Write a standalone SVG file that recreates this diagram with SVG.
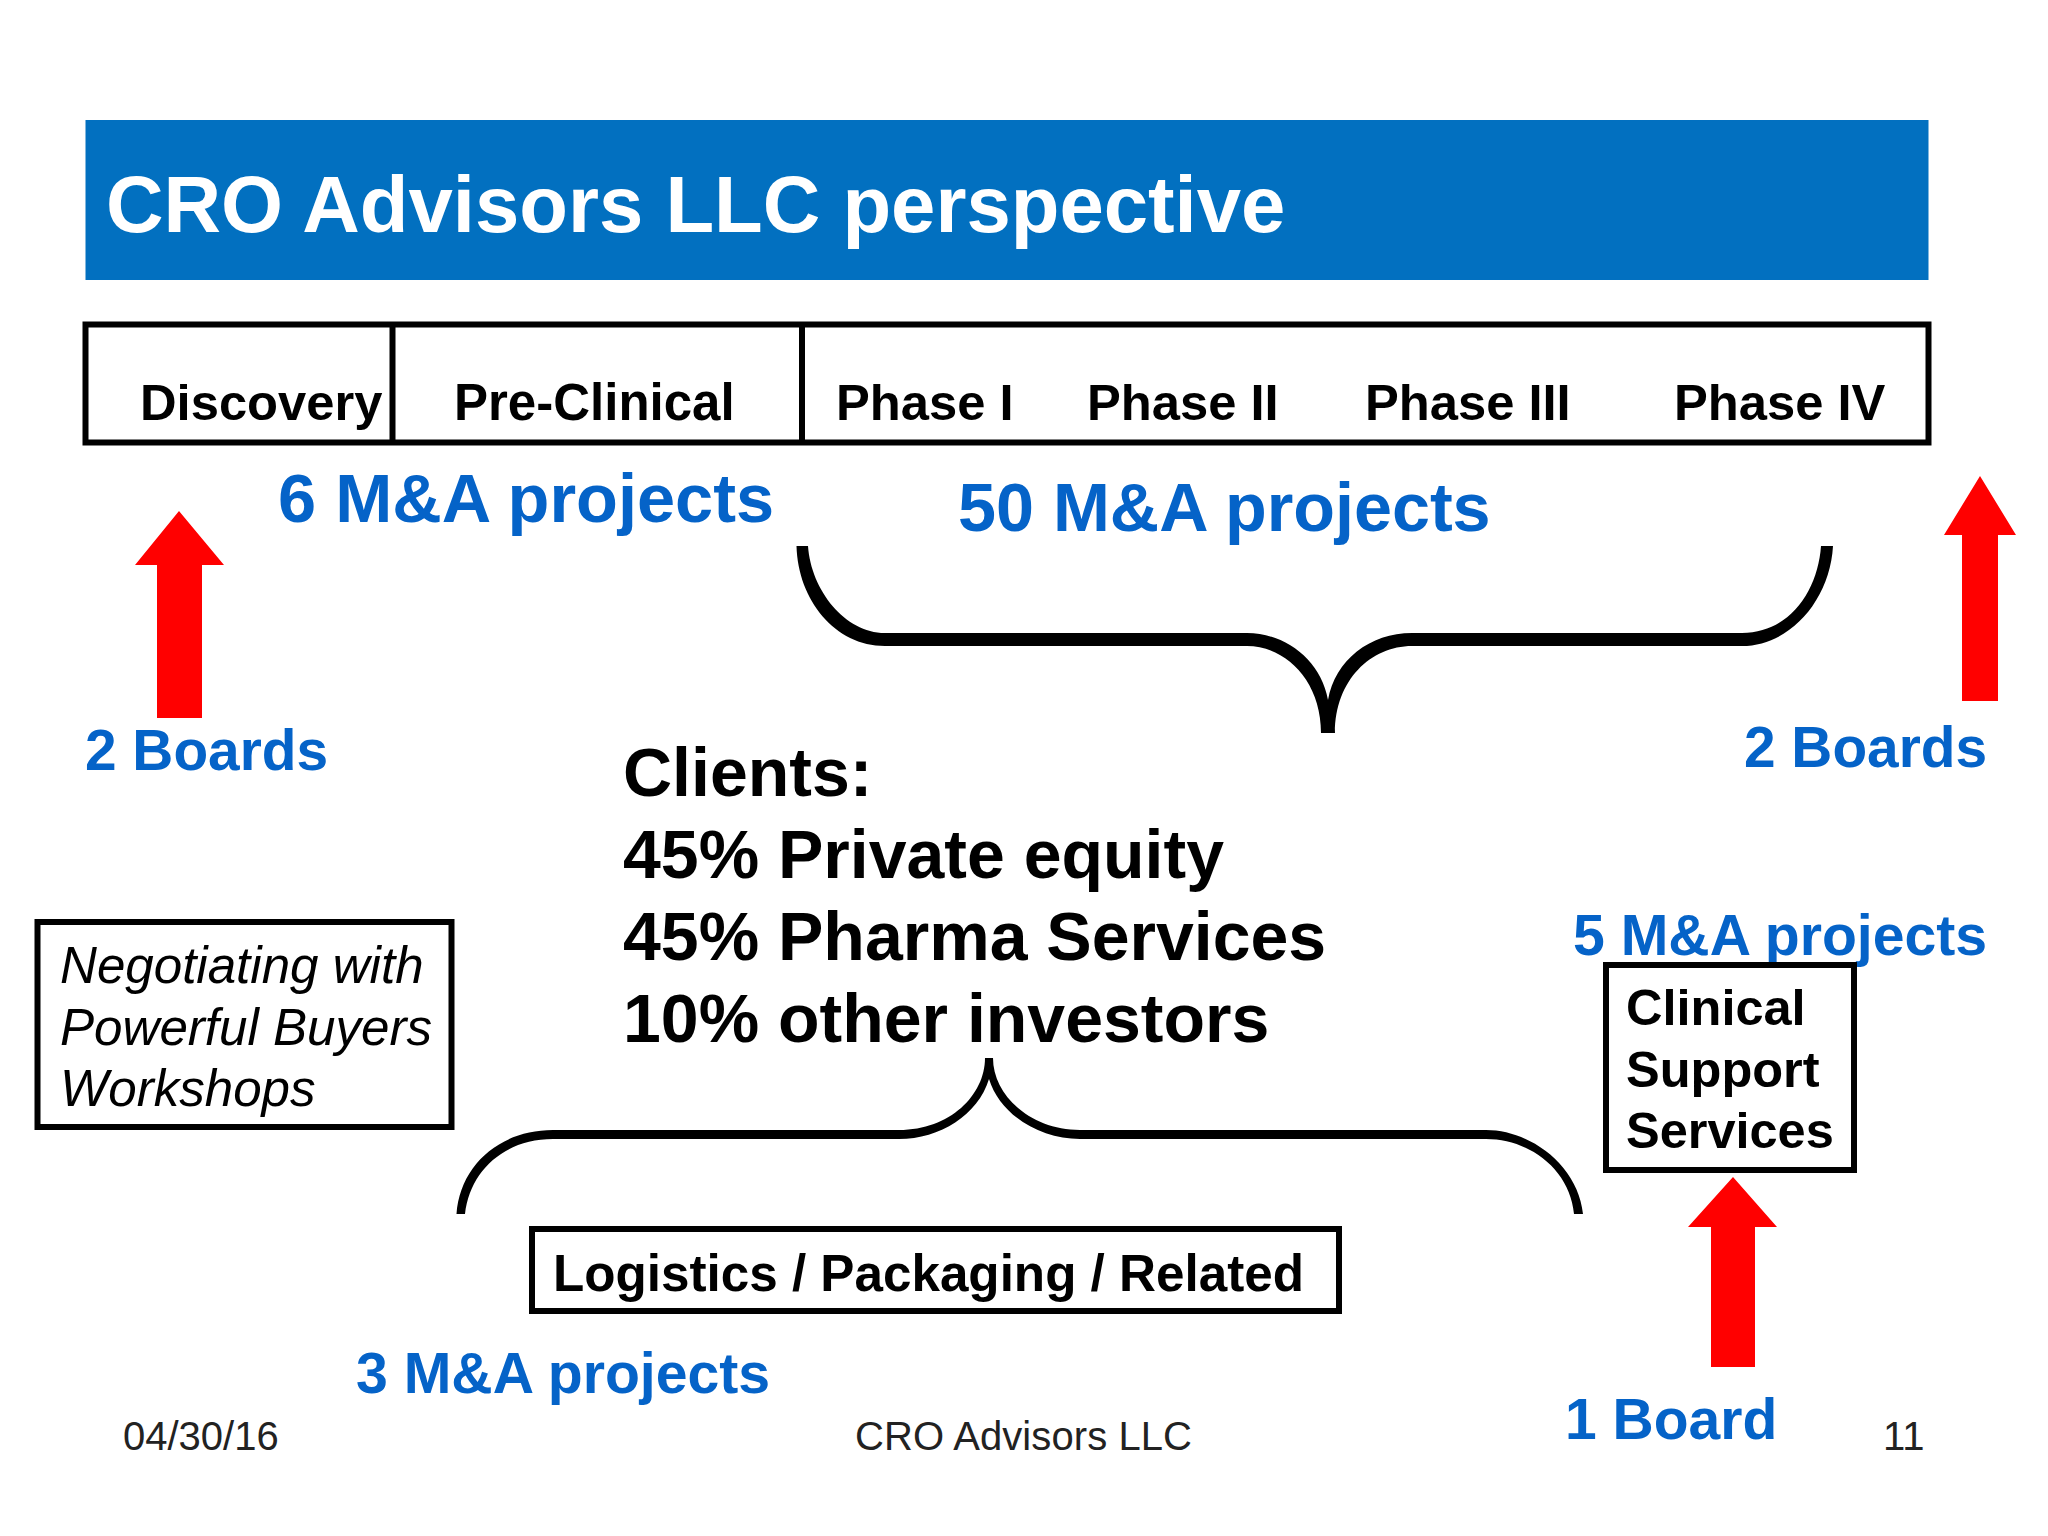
<svg xmlns="http://www.w3.org/2000/svg" width="2048" height="1536" viewBox="0 0 2048 1536">
<style>
text{font-family:"Liberation Sans",Arial,sans-serif;font-weight:700}
.b{fill:#0563c8}.k{fill:#000}.n{font-weight:400;fill:#222;font-size:40px}
.box{fill:none;stroke:#000;stroke-width:6}
.br{fill:#000}
.ar{fill:#f00}
.it{font-weight:400;font-style:italic;font-size:51.100px}
</style>
<rect width="2048" height="1536" fill="#fff"/>
<g id="title"><rect x="85.500" y="120" width="1843" height="160" fill="#0270c0"/><text x="106" y="232" font-size="79.700" fill="#fff">CRO Advisors LLC perspective</text></g>
<g id="pipeline"><rect class="box" x="85.500" y="324.500" width="1843" height="118"/><path class="box" d="M392.500 325V443M802 325V443"/>
<g class="k" font-size="50.700"><text x="140" y="420">Discovery</text><text x="454" y="420" font-size="51">Pre-Clinical</text><text x="836" y="420">Phase I</text><text x="1087" y="420">Phase II</text><text x="1365" y="420">Phase III</text><text x="1674" y="420">Phase IV</text></g></g>
<g id="labels" class="b"><text x="278" y="522" font-size="68.500">6 M&amp;A projects</text><text x="958" y="531" font-size="68.300">50 M&amp;A projects</text><text x="85" y="770" font-size="56.800">2 Boards</text><text x="1744" y="767" font-size="56.800">2 Boards</text><text x="1573" y="955" font-size="57.200">5 M&amp;A projects</text><text x="356" y="1393" font-size="57.200">3 M&amp;A projects</text><text x="1565" y="1439" font-size="57">1 Board</text></g>
<g id="connectors"><path class="br" d="M796.500 546C798 600 835 646 885 646H1247C1285 646 1321 680 1321 733H1335C1335 680 1371 646 1412 646H1742C1790 646 1830 600 1833 546H1821C1818 590 1790 633 1742 633H1412C1370 633 1335 660 1328 700C1321 660 1285 633 1247 633H885C845 633 811 590 808 546Z"/><path class="br" d="M456.500 1214C460 1165 500 1130 553 1130H899C950 1130 985 1095 985 1058H993C993 1095 1030 1130 1080 1130H1486C1530 1130 1578 1165 1583 1214H1574C1570 1170 1530 1139 1486 1139H1080C1040 1139 1000 1115 989 1079C978 1115 940 1139 899 1139H553C505 1139 470 1170 465 1214Z"/>
<polygon class="ar" points="135,565 179,511 224,565 202,565 202,718 157,718 157,565"/><polygon class="ar" points="1944,535 1980,476 2016,535 1998,535 1998,701 1962,701 1962,535"/><polygon class="ar" points="1688,1227 1733,1177 1777,1227 1755,1227 1755,1367 1711,1367 1711,1227"/></g>
<g id="clients" class="k" font-size="68"><text x="623" y="796">Clients:</text><text x="623" y="878">45% Private equity</text><text x="623" y="960">45% Pharma Services</text><text x="623" y="1042">10% other investors</text></g>
<g id="workshops"><rect class="box" x="37.500" y="922" width="414" height="205"/><text class="it" x="60" y="983">Negotiating with</text><text class="it" x="60" y="1045">Powerful Buyers</text><text class="it" x="60" y="1106">Workshops</text></g>
<g id="clinical"><rect class="box" x="1606" y="965" width="248" height="205"/><g class="k" font-size="50.500"><text x="1626" y="1025">Clinical</text><text x="1626" y="1087">Support</text><text x="1626" y="1148">Services</text></g></g>
<g id="logistics"><rect class="box" x="532" y="1229" width="807" height="82"/><text x="553" y="1291" font-size="51.200">Logistics / Packaging / Related</text></g>
<g id="footer"><text class="n" x="123" y="1450">04/30/16</text><text class="n" x="855" y="1450" textLength="337">CRO Advisors LLC</text><text class="n" x="1883" y="1450">11</text></g>
</svg>
